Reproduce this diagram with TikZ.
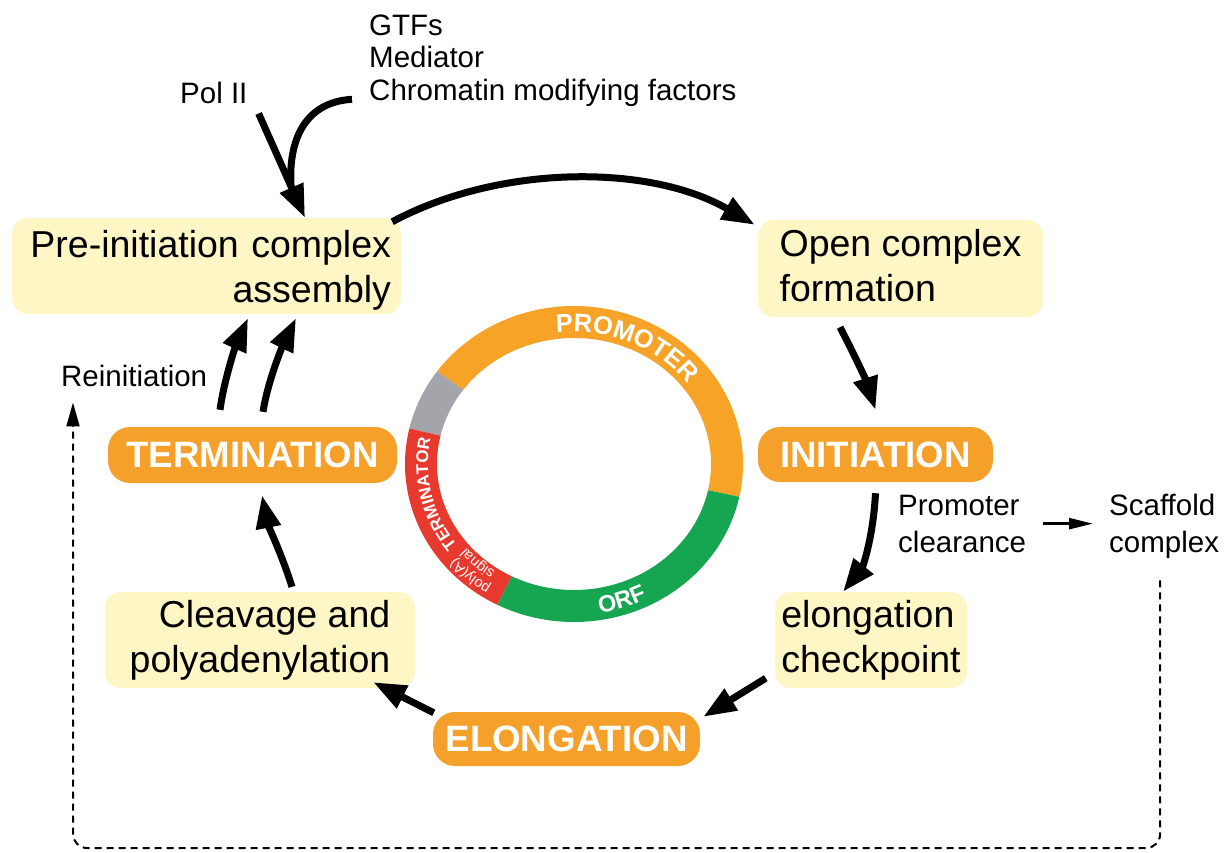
\documentclass[tikz,border=0pt]{standalone}
\usepackage{fontspec}
\setmainfont{Liberation Sans}
\usetikzlibrary{arrows.meta,decorations.text,calc}
\definecolor{boxyellow}{HTML}{FEF6C4}
\definecolor{pillorange}{HTML}{F5A02A}
\definecolor{ringorange}{HTML}{F6A328}
\definecolor{ringgreen}{HTML}{16A651}
\definecolor{ringred}{HTML}{E8392F}
\definecolor{ringgray}{HTML}{A3A5AA}
\newcommand\ringseg[3]{%
  \fill[#1] ($(ringc)+(#2:169 and 158)$) arc[start angle=#2, end angle=#3, x radius=169, y radius=158]
    -- ($(ringc)+(#3:137 and 126)$) arc[start angle=#3, end angle=#2, x radius=137, y radius=126] -- cycle;}
\begin{document}
\begin{tikzpicture}[x=1pt,y=1pt,
  ybox/.style={fill=boxyellow, rounded corners=16pt, inner sep=0pt, font=\fontsize{37.5}{45}\selectfont},
  pill/.style={fill=pillorange, rounded corners=22pt, inner sep=0pt, text=white, font=\fontsize{36.7}{40}\selectfont\bfseries},
  lbl/.style={inner sep=0pt, font=\fontsize{29.5}{32.5}\selectfont},
  arr/.style={line width=7pt, -{Triangle[length=33pt,width=24pt]}},
  thinarr/.style={line width=2.5pt, -{Triangle[length=24pt,width=11pt]}},
  dasharr/.style={line width=2pt, dash pattern=on 7pt off 5pt, -{Triangle[length=24pt,width=13pt]}}
]
\useasboundingbox (0,0) rectangle (1231,-852);

% ring
\coordinate (ringc) at (574,-464);
\ringseg{ringorange}{-12}{144}
\ringseg{ringgray}{144}{167}
\ringseg{ringred}{167}{243}
\ringseg{ringgreen}{243}{348}
\path[decorate, decoration={text along path, text align=center, text color=white,
  text={|\fontsize{25.5}{25.5}\selectfont\bfseries|PROMOTER}}]
  ($(ringc)+(101:143 and 132)$) arc[start angle=101, end angle=33, x radius=143, y radius=132];
\path[decorate, decoration={text along path, text align=center, text color=white,
  text={|\fontsize{23.5}{23.5}\selectfont\bfseries|ORF}}]
  ($(ringc)+(-85:162 and 151)$) arc[start angle=-85, end angle=-59, x radius=162, y radius=151];
\path[decorate, decoration={text along path, text align=center, text color=white,
  text={|\fontsize{17}{17}\selectfont\bfseries|TERMINATOR}}]
  ($(ringc)+(218:146 and 135)$) arc[start angle=218, end angle=168, x radius=146, y radius=135];
\path[decorate, decoration={text along path, text align=center, text color=white,
  text={|\fontsize{14.5}{14.5}\selectfont|poly(A)}}]
  ($(ringc)+(246:156 and 145)$) arc[start angle=246, end angle=212, x radius=156, y radius=145];
\path[decorate, decoration={text along path, text align=center, text color=white,
  text={|\fontsize{14.5}{14.5}\selectfont|signal}}]
  ($(ringc)+(245:141 and 130)$) arc[start angle=245, end angle=211, x radius=141, y radius=130];

% boxes
\node[ybox, minimum width=389pt, minimum height=96pt, text width=369pt, align=right] (pre) at (206.5,-266)
  {\rule{0pt}{36pt}Pre-initiation complex\\assembly};
\node[ybox, minimum width=285pt, minimum height=97pt, align=left] (open) at (900.5,-268.5)
  {Open complex\\formation\rule[-7pt]{0pt}{7pt}};
\node[ybox, minimum width=192pt, minimum height=96pt, align=left] (chk) at (871,-640)
  {elongation\\checkpoint};
\node[ybox, minimum width=310pt, minimum height=96pt, align=right] (cleave) at (260,-640)
  {Cleavage and\\polyadenylation};

% pills
\node[pill, minimum width=235pt, minimum height=55pt] (init) at (875.5,-454.5) {INITIATION};
\node[pill, minimum width=289pt, minimum height=56pt] (term) at (252.5,-455) {TERMINATION};
\node[pill, minimum width=267pt, minimum height=54pt] (elong) at (566.5,-739) {ELONGATION};

% labels
\node[lbl, align=left, anchor=base west] (gtf) at (369,-100) {GTFs\\Mediator\\Chromatin modifying factors};
\node[lbl, anchor=base west] (pol) at (180,-103) {Pol II};
\node[lbl, anchor=base west] (reinit) at (61,-386) {Reinitiation};
\node[lbl, align=left, anchor=base west, font=\fontsize{29.5}{36.7}\selectfont] (prom) at (898,-552) {Promoter\\clearance};
\node[lbl, align=left, anchor=base west, font=\fontsize{29.5}{36.7}\selectfont] (scaf) at (1109,-552) {Scaffold\\complex};

% connectors
\coordinate (polA) at ([shift={(11,-10)}]pol.south east);
\coordinate (polB) at ([shift={(98.5,0)}]pre.north);
\coordinate (merge) at ($(polA)!0.7!(polB)$);
\draw[arr] (polA) -- (polB);
\draw[line width=7pt] ([shift={(-17,7)}]gtf.south west) .. controls (305,-102) and (288,-140) .. (merge);
\draw[arr] ([shift={(-9,-4)}]pre.north east) .. controls (500,-164) and (650,-164) .. ([shift={(-3,-5)}]open.north west);
\draw[arr] ([shift={(-60.5,-10)}]open.south) .. controls (852,-350) and (866,-380) .. ([shift={(0,17)}]init.north);
\draw[arr] ([shift={(0,-11)}]init.south) .. controls (873,-540) and (862,-568) .. ([shift={(-28,0)}]chk.north);
\draw[thinarr] ([xshift=17pt]prom.east) -- ([xshift=-16pt]prom.east -| scaf.west);
\draw[arr] ([shift={(-9,10)}]chk.south west) -- ([shift={(3,-5)}]elong.north east);
\draw[arr] ([shift={(1,-1)}]elong.north west) -- ([shift={(-42,6)}]cleave.south east);
\draw[arr] ([shift={(32,5)}]cleave.north) .. controls (282,-555) and (268,-525) .. ([shift={(9.5,-12)}]term.south);
\draw[arr] ([shift={(-32.5,17)}]term.north) .. controls (224,-380) and (236,-345) .. ([shift={(41.5,-4)}]pre.south);
\draw[arr] ([shift={(10.5,15)}]term.north) .. controls (268,-380) and (283,-345) .. ([shift={(89.5,-4)}]pre.south);

\coordinate (bot) at (0,-848);
\coordinate (dA) at ([shift={(-4,-22)}]scaf.south);
\coordinate (dB) at ([shift={(12,-16)}]reinit.south west);
\draw[dasharr, rounded corners=14pt] (dA) -- (dA |- bot) -- (dB |- bot) -- (dB);
\end{tikzpicture}
\end{document}
